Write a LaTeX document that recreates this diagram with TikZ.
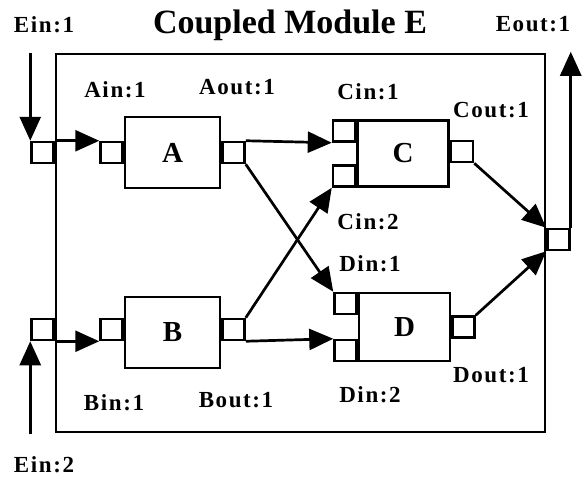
\documentclass[tikz,border=0pt]{standalone}
\usepackage{fontspec}
\setmainfont{Liberation Serif}
\newfontfamily\spacedserif{Liberation Serif}[LetterSpace=7.0]
\usepackage{tikz}
\usetikzlibrary{arrows.meta,positioning}
\newcommand{\lblfont}{\spacedserif\bfseries\fontsize{23}{26}\selectfont}
\newcommand{\titlefont}{\rmfamily\bfseries\fontsize{34}{38}\selectfont}
\newcommand{\boxfont}{\rmfamily\bfseries\fontsize{29}{32}\selectfont}

\begin{document}
\begin{tikzpicture}[
  x=1pt,y=-1pt,
  module/.style={draw,line width=2.5pt,minimum width=95pt,minimum height=71pt,
    inner sep=0pt,font=\boxfont},
  port/.style={draw,line width=2.5pt,minimum width=22pt,minimum height=21pt,inner sep=0pt},
  lbl/.style={font=\lblfont,inner sep=0pt},
  arrow/.style={-{Triangle[length=24pt,width=21pt]},line width=2.7pt}
]
\useasboundingbox (0,0) rectangle (582,477);
% coupled module and its components
\node[draw,line width=2.5pt,minimum width=489pt,minimum height=378pt] (E) at (300.5,243) {};
\node[module] (A) at (172.5,152.5) {A};
\node[module] (B) at (172.5,332.5) {B};
\node[module,minimum width=91pt,minimum height=66pt] (C) at (403,153.5) {C};
\node[module,minimum width=91pt,minimum height=68pt] (D) at (404.5,327) {D};
% ports
\node[port,left=0pt of A] (Ain) {};
\node[port,right=0pt of A] (Aout) {};
\node[port,left=0pt of B,yshift=3pt] (Bin) {};
\node[port,right=0pt of B,yshift=3pt] (Bout) {};
\node[port,anchor=north east] (Cin1) at (C.north west) {};
\node[port,anchor=south east] (Cin2) at (C.south west) {};
\node[port,right=0pt of C,yshift=2pt] (Cout) {};
\node[port,anchor=north east] (Din1) at (D.north west) {};
\node[port,anchor=south east] (Din2) at (D.south west) {};
\node[port,right=0pt of D] (Dout) {};
\node[port,anchor=east] (Ein1) at (E.west |- Ain.center) {};
\node[port,anchor=east] (Ein2) at (E.west |- Bin.center) {};
\node[port,anchor=west] (Eout) at ([yshift=3.5pt]E.east) {};
% labels
\node[font=\titlefont,inner sep=0pt] (title) at (290,25) {Coupled Module E};
\node[lbl] (ein1lbl) at (44,25) {Ein:1};
\node[lbl] (ein2lbl) at (44,465) {Ein:2};
\node[lbl] (eoutlbl) at (533,24) {Eout:1};
\node[lbl] (ainlbl) at (115,90) {Ain:1};
\node[lbl] (aoutlbl) at (237,87) {Aout:1};
\node[lbl] (binlbl) at (114,403) {Bin:1};
\node[lbl] (boutlbl) at (236,400) {Bout:1};
\node[lbl] (cin1lbl) at (368,92) {Cin:1};
\node[lbl] (cin2lbl) at (368,222) {Cin:2};
\node[lbl] (coutlbl) at (491,110) {Cout:1};
\node[lbl] (din1lbl) at (370,264) {Din:1};
\node[lbl] (din2lbl) at (370,395) {Din:2};
\node[lbl] (doutlbl) at (491,375) {Dout:1};
% free ends of the external couplings
\coordinate (ein1src) at ([yshift=88pt]Ein1.north west);
\coordinate (ein2src) at ([yshift=-93pt]Ein2.south west);
\coordinate (eoutdst) at ([yshift=176pt]Eout.north east);
% couplings
\draw[arrow] (ein1src) -- (Ein1.north west);
\draw[arrow] (Ein1.north east) -- (Ain.north west);
\draw[arrow] (ein2src) -- (Ein2.south west);
\draw[arrow] (Ein2.south east) -- (Bin.south west);
\draw[arrow] (Aout.north east) -- (Cin1.south west);
\draw[arrow] (Aout.south east) -- (Din1.north west);
\draw[arrow] (Bout.north east) -- (Cin2.south west);
\draw[arrow] (Bout.south east) -- (Din2.north west);
\draw[arrow] (Cout.south east) -- (Eout.north west);
\draw[arrow] (Dout.north east) -- (Eout.south west);
\draw[arrow] (Eout.north east) -- (eoutdst);
\end{tikzpicture}
\end{document}
